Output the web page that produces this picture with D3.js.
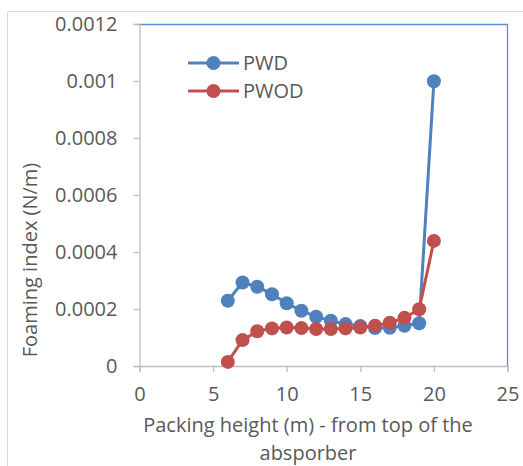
<!DOCTYPE html>
<html>
<head>
<meta charset="utf-8">
<script src="https://cdn.jsdelivr.net/npm/d3@7"></script>
<style>
  body { margin: 0; background: #fff; }
  text { font-family: "Open Sans", sans-serif; fill: #595959; }
</style>
</head>
<body>
<div id="chart-area"></div>
<script>
// packing height (m)
var heights = [6, 7, 8, 9, 10, 11, 12, 13, 14, 15, 16, 17, 18, 19, 20];
var pwd = [0.000229, 0.000293, 0.000278, 0.000252, 0.00022, 0.000194, 0.000173,
	0.000159, 0.000147, 0.00014, 0.000133, 0.000134, 0.000141, 0.00015, 0.000999];
var pwod = [0.0000144, 0.0000908, 0.000122, 0.000132, 0.000135, 0.000133, 0.00013,
	0.00013, 0.000132, 0.000135, 0.000141, 0.000152, 0.000169, 0.000199, 0.000439];
var xTicks = [0, 5, 10, 15, 20, 25];
var yTicks = [0, 0.0002, 0.0004, 0.0006, 0.0008, 0.001, 0.0012];
var seriesNames = ["PWD", "PWOD"];
var colors = ["#4F81BD", "#C0504D"];

var W = 523, H = 466;
var fontSize = "20px";
var margins = { top: 24, bottom: 100, left: 139.5, right: 15.5 };
var width = W - margins.left - margins.right;
var height = 366 - margins.top;

var svg = d3.select("#chart-area")
	.append("svg")
		.attr("width", W)
		.attr("height", H);

// outer chart border
svg.append("path")
	.attr("d", "M7.5," + H + " V11.5 H" + W)
	.attr("fill", "none")
	.attr("stroke", "#d9d9d9")
	.attr("stroke-width", 1);

var g = svg.append("g")
	.attr("transform", `translate(${margins.left}, ${margins.top})`);

var x = d3.scaleLinear().domain([0, 25]).range([0, width]);
var y = d3.scaleLinear().domain([0, 0.0012]).range([height, 0]);

// plot frame top/right (blue)
g.append("path")
	.attr("d", `M0,0.5 H${width} V${height}`)
	.attr("fill", "none")
	.attr("stroke", "#5b8ed6")
	.attr("stroke-width", 1.3);

var xAxisCall = d3.axisBottom(x).tickValues(xTicks).tickSize(6).tickPadding(15)
	.tickFormat(d3.format("d"));
var xAxisGroup = g.append("g")
	.attr("transform", `translate(0, ${height})`)
	.call(xAxisCall);

var yAxisCall = d3.axisLeft(y).tickValues(yTicks).tickSize(6).tickPadding(16)
	.tickFormat(d => d === 0 ? "0" : d3.format(".4~f")(d));
var yAxisGroup = g.append("g").call(yAxisCall);

[xAxisGroup, yAxisGroup].forEach(ax => {
	ax.select(".domain").attr("stroke", "#bfbfbf").attr("stroke-width", 1.3);
	ax.selectAll(".tick line").attr("stroke", "#bfbfbf").attr("stroke-width", 1.3);
	ax.selectAll(".tick text")
		.attr("font-size", fontSize)
		.attr("font-family", "Open Sans, sans-serif")
		.attr("fill", "#595959");
});
xAxisGroup.selectAll(".tick text").attr("dy", "0.71em");

// Labels
svg.append("text")
	.attr("x", 308)
	.attr("y", 432)
	.attr("font-size", fontSize)
	.attr("text-anchor", "middle")
	.text("Packing height (m) - from top of the");
svg.append("text")
	.attr("x", 308)
	.attr("y", 460)
	.attr("font-size", fontSize)
	.attr("text-anchor", "middle")
	.text("absporber");

svg.append("text")
	.attr("transform", "translate(37, 260) rotate(-90)")
	.attr("font-size", fontSize)
	.attr("text-anchor", "middle")
	.text("Foaming index (N/m)");

// series
var series = [pwd, pwod];
var line = d3.line()
	.x((d, i) => x(heights[i]))
	.y(d => y(d));

series.forEach((vals, s) => {
	g.append("path")
		.datum(vals)
		.attr("fill", "none")
		.attr("stroke", colors[s])
		.attr("stroke-width", 3)
		.attr("d", line);
	g.selectAll(".pt" + s)
		.data(vals)
		.enter()
		.append("circle")
			.attr("class", "pt" + s)
			.attr("cx", (d, i) => x(heights[i]))
			.attr("cy", d => y(d))
			.attr("r", 7)
			.attr("fill", colors[s]);
});

// legend
var legend = svg.append("g");
seriesNames.forEach((name, s) => {
	var ly = 63 + s * 28;
	legend.append("line")
		.attr("x1", 188).attr("x2", 239)
		.attr("y1", ly).attr("y2", ly)
		.attr("stroke", colors[s])
		.attr("stroke-width", 3);
	legend.append("circle")
		.attr("cx", 213.5).attr("cy", ly).attr("r", 7)
		.attr("fill", colors[s]);
	legend.append("text")
		.attr("x", 243)
		.attr("y", ly)
		.attr("dy", "0.35em")
		.attr("font-size", fontSize)
		.text(name);
});
</script>
</body>
</html>
